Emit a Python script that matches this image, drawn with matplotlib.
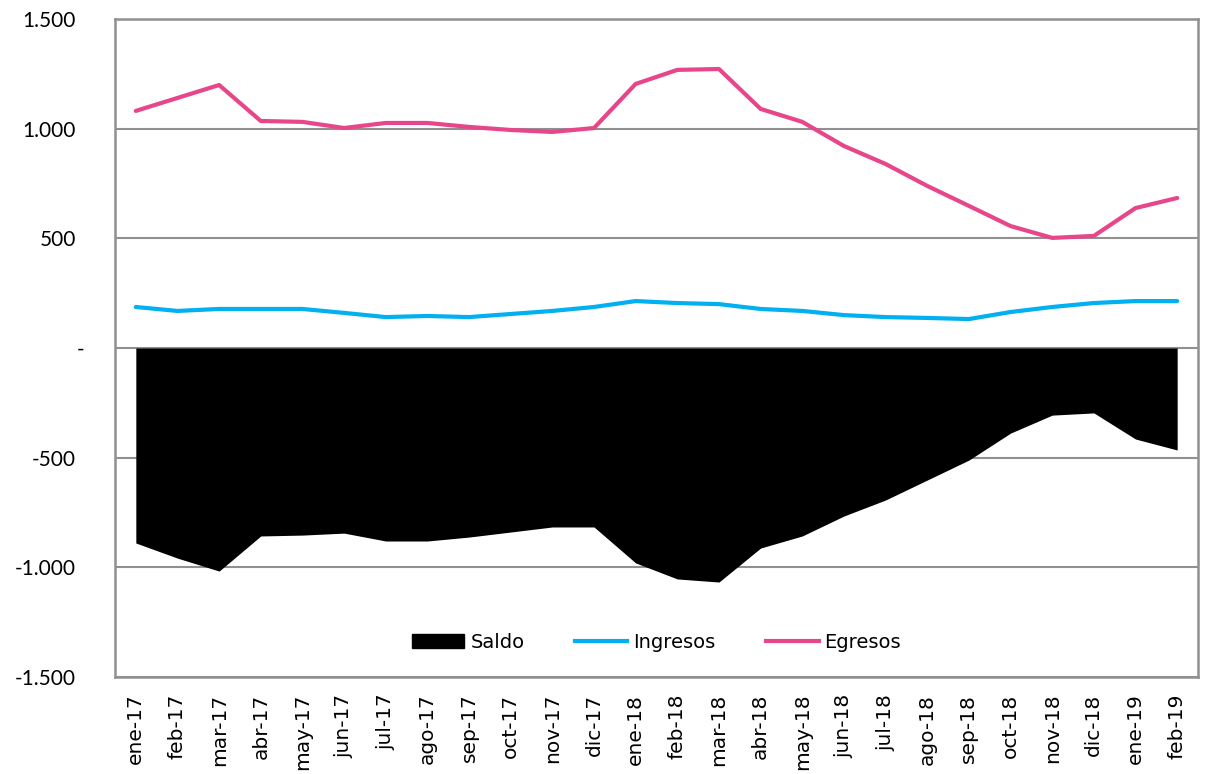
import matplotlib
matplotlib.use("Agg")
import matplotlib.pyplot as plt
import matplotlib.transforms as mtransforms
from matplotlib.ticker import FuncFormatter
from matplotlib.patches import Patch
from matplotlib.lines import Line2D

months = ["ene-17", "feb-17", "mar-17", "abr-17", "may-17", "jun-17", "jul-17", "ago-17",
          "sep-17", "oct-17", "nov-17", "dic-17", "ene-18", "feb-18", "mar-18", "abr-18",
          "may-18", "jun-18", "jul-18", "ago-18", "sep-18", "oct-18", "nov-18", "dic-18",
          "ene-19", "feb-19"]
egresos = [1081, 1140, 1199, 1035, 1031, 1003, 1026, 1026, 1008, 994, 985, 1003,
           1204, 1268, 1272, 1090, 1031, 921, 839, 739, 648, 556, 502, 511, 638, 684]
ingresos = [187, 169, 178, 178, 178, 160, 141, 146, 141, 155, 169, 187,
            214, 205, 200, 178, 169, 150, 141, 137, 132, 164, 187, 205, 214, 214]
saldo = [-889, -958, -1017, -857, -853, -844, -880, -880, -862, -839, -816, -816,
         -980, -1053, -1067, -912, -857, -766, -693, -602, -511, -388, -306, -296, -415, -465]

plt.rcParams['font.family'] = ['Lato', 'DejaVu Sans']

fig = plt.figure(figsize=(12.08, 7.74), dpi=100)
ax = fig.add_axes([115/1208, 1-677/774, (1198-115)/1208, (677-19)/774])

x = list(range(len(months)))
ax.fill_between(x, 0, saldo, color="black", linewidth=0, zorder=2)
ax.plot(x, ingresos, color="#00B0F0", linewidth=3.0, zorder=3, solid_capstyle="round")
ax.plot(x, egresos, color="#E8468A", linewidth=3.0, zorder=3, solid_capstyle="round")

ax.set_xlim(-0.5, len(months) - 0.5)
ax.set_ylim(-1500, 1500)
ax.set_yticks([-1500, -1000, -500, 0, 500, 1000, 1500])

def fmt(v, pos):
    if v == 0:
        return "-"
    s = f"{abs(int(v)):,}".replace(",", ".")
    return ("-" if v < 0 else "") + s

ax.yaxis.set_major_formatter(FuncFormatter(fmt))
ax.set_xticks(x)
ax.set_xticklabels(months, rotation=90, fontsize=14.5, family=['DejaVu Sans'])
ax.tick_params(axis="y", labelsize=15, length=0, pad=28)
ax.tick_params(axis="x", length=0, pad=12)
ax.grid(axis="y", color="#909090", linewidth=1.5, zorder=1)
for sp in ax.spines.values():
    sp.set_color("#909090")
    sp.set_linewidth(1.8)

handles = [Patch(facecolor="black", edgecolor="black", label="Saldo"),
           Line2D([0], [0], color="#00B0F0", linewidth=3.0, label="Ingresos"),
           Line2D([0], [0], color="#E8468A", linewidth=3.0, label="Egresos")]
ax.legend(handles=handles, loc="lower center", bbox_to_anchor=(0.5, 0.012), ncol=3,
          frameon=False, prop={'family': 'DejaVu Sans', 'size': 14},
          handlelength=2.7, columnspacing=2.6, handletextpad=0.3)

fig.canvas.draw()
for lbl in ax.get_yticklabels():
    if lbl.get_text() == "-":
        lbl.set_transform(lbl.get_transform() +
                          mtransforms.ScaledTranslation(8/100, 0, fig.dpi_scale_trans))

fig.savefig("out.png", dpi=100, facecolor="white")
